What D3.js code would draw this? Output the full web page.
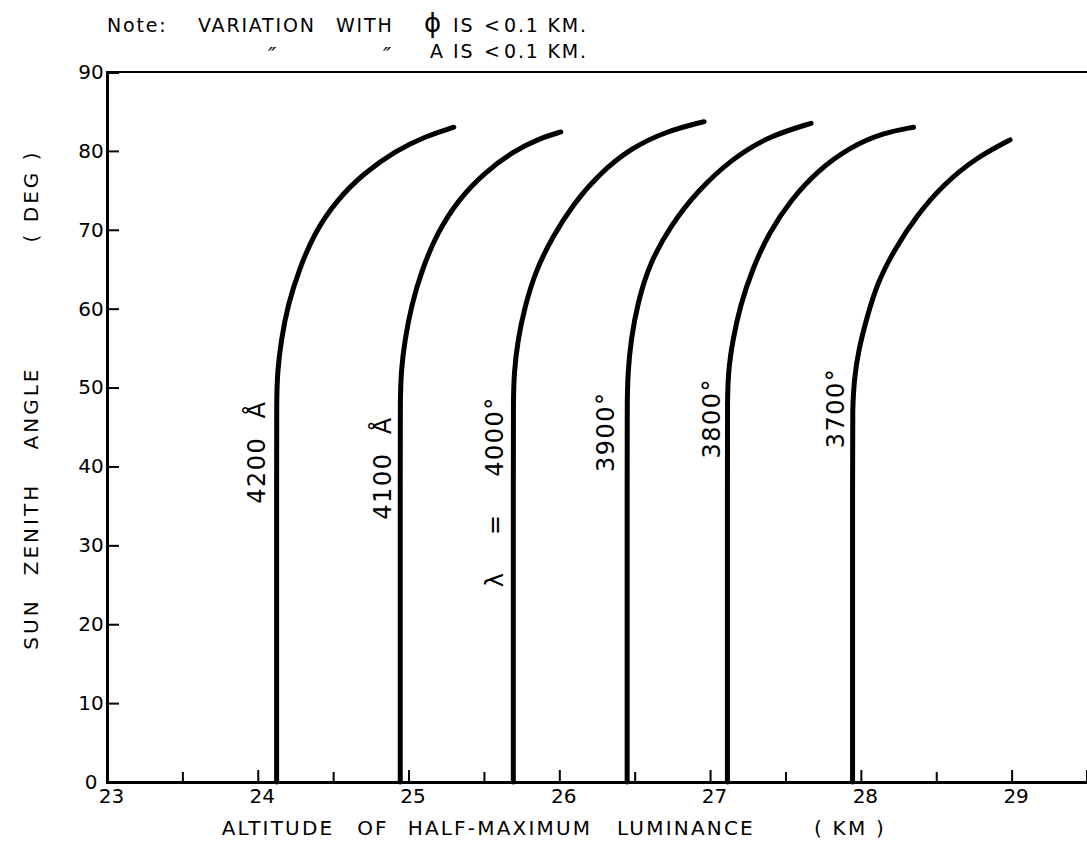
<!DOCTYPE html>
<html><head><meta charset="utf-8">
<script src="https://cdn.jsdelivr.net/npm/d3@7"></script>
<style>
html,body{margin:0;padding:0;background:#fff;}
svg text{font-family:"DejaVu Sans","Noto Sans",sans-serif;fill:#000;}
</style></head>
<body>
<svg id="chart" width="1087" height="841"></svg>
<script>
// ---- data ----
const xMajorTicks = [23, 24, 25, 26, 27, 28, 29];
const xMinorTicks = [23.5, 24.5, 25.5, 26.5, 27.5, 28.5];
const yTicks = [0, 10, 20, 30, 40, 50, 60, 70, 80, 90];
const curveNames = ["4200  Å", "4100  Å", "λ    =    4000°", "3900°", "3800°", "3700°"];
// [altitude km, sun zenith angle deg]
const curve4200 = [[24.125,0],[24.125,44],[24.125,48],[24.13,52],[24.155,56],[24.20,60.5],[24.275,65],[24.375,69.6],[24.525,73.8],[24.705,77.2],[24.915,80],[25.105,81.8],[25.30,83.0]];
const curve4100 = [[24.945,0],[24.945,44],[24.945,48],[24.95,52],[24.975,56.0],[25.02,60.5],[25.09,65.0],[25.19,69.6],[25.33,73.8],[25.50,77.2],[25.70,80.0],[25.87,81.6],[26.01,82.4]];
const curve4000 = [[25.695,0],[25.695,44],[25.695,48],[25.70,52],[25.725,56.0],[25.77,60.2],[25.845,64.9],[25.955,69.1],[26.09,73.2],[26.26,77.0],[26.47,80.3],[26.71,82.5],[26.96,83.7]];
const curve3900 = [[26.45,0],[26.45,44],[26.45,48],[26.455,52],[26.475,56.0],[26.52,60.8],[26.60,65.8],[26.74,70.6],[26.92,75.0],[27.14,78.9],[27.38,81.8],[27.67,83.5]];
const curve3800 = [[27.115,0],[27.115,44],[27.115,48],[27.12,52],[27.15,56.0],[27.20,60.4],[27.28,65.0],[27.39,69.6],[27.54,73.9],[27.72,77.6],[27.93,80.5],[28.15,82.3],[28.35,83.0]];
const curve3700 = [[27.945,0],[27.945,44],[27.945,47.0],[27.955,51],[27.985,54.8],[28.04,58.9],[28.11,63.3],[28.22,67.4],[28.37,71.8],[28.55,75.8],[28.77,79.2],[28.99,81.4]];
const curves = [curve4200, curve4100, curve4000, curve3900, curve3800, curve3700];
// label anchor: [altitude km, angle deg] (rotated text centre)
const labelPos = [[23.99,41.8],[24.83,39.8],[25.57,36.8],[26.31,44.4],[27.01,46.1],[27.83,47.4]];
const xTitleWords = ["ALTITUDE", "OF", "HALF-MAXIMUM", "LUMINANCE", "( KM )"];
const yTitleWords = ["SUN", "ZENITH", "ANGLE", "( DEG )"];
const noteLine1 = ["Note:", "VARIATION", "WITH", "ϕ", "IS", "<", "0.1 KM."];
const noteLine2 = ["\u2033", "\u2033", "A", "IS", "<", "0.1 KM."];

// ---- drawing ----
const svg = d3.select("#chart");
const x = d3.scaleLinear().domain([23, 29.5]).range([107, 1087]);
const y = d3.scaleLinear().domain([0, 90]).range([782, 72]);

// top border
svg.append("line").attr("x1", x(23)).attr("x2", x(29.5)).attr("y1", y(90)).attr("y2", y(90))
  .attr("stroke", "#000").attr("stroke-width", 2);

// left axis
const gy = svg.append("g").attr("transform", `translate(${x(23)},0)`)
  .call(d3.axisLeft(y).tickValues(yTicks).tickSize(-12).tickPadding(28).tickFormat(d3.format("d")));
gy.select(".domain").attr("stroke-width", 3);
gy.selectAll(".tick line").attr("stroke-width", 2);
gy.selectAll(".tick text").attr("font-size", 20).attr("text-anchor", "middle").attr("dx", 12);

// bottom axis
const gx = svg.append("g").attr("transform", `translate(0,${y(0)})`)
  .call(d3.axisBottom(x).tickValues(xMajorTicks).tickSize(-12).tickPadding(7).tickFormat(d3.format("d")));
gx.select(".domain").attr("stroke-width", 3);
gx.selectAll(".tick line").attr("stroke-width", 2);
gx.selectAll(".tick text").attr("font-size", 20).attr("font-family", "'Liberation Sans Narrow','DejaVu Sans Condensed',sans-serif").attr("dx", 4);
const gxm = svg.append("g").attr("transform", `translate(0,${y(0)})`)
  .call(d3.axisBottom(x).tickValues(xMinorTicks).tickSize(-10).tickFormat(""));
gxm.select(".domain").remove();
gxm.selectAll(".tick line").attr("stroke-width", 2);

// curves
const line = d3.line().x(d => x(d[0])).y(d => y(d[1])).curve(d3.curveBasis);
svg.append("g").selectAll("path").data(curves).join("path")
  .attr("d", line).attr("fill", "none").attr("stroke", "#000")
  .attr("stroke-width", 5).attr("stroke-linecap", "round");

// curve labels
svg.append("g").selectAll("text").data(curveNames).join("text")
  .attr("transform", (d, i) => `translate(${x(labelPos[i][0])},${y(labelPos[i][1])}) rotate(-90)`)
  .attr("text-anchor", "middle").attr("dy", "0.35em")
  .attr("font-size", 24).attr("letter-spacing", 1.5).attr("xml:space", "preserve")
  .text(d => d);

// axis titles
const xtC = [278, 373, 500, 686, 850];
svg.append("g").selectAll("text").data(xTitleWords).join("text")
  .attr("x", (d, i) => xtC[i]).attr("y", 835).attr("text-anchor", "middle")
  .attr("font-size", 20).attr("letter-spacing", 2.2).attr("xml:space", "preserve")
  .text(d => d);
const ytC = [624, 529, 408, 196];
svg.append("g").selectAll("text").data(yTitleWords).join("text")
  .attr("transform", (d, i) => `translate(38,${ytC[i]}) rotate(-90)`).attr("text-anchor", "middle")
  .attr("font-size", 20).attr("letter-spacing", 3).attr("xml:space", "preserve")
  .text(d => d);

// notes
const n1x = [107, 198, 336, 424, 453, 484, 504];
const n2x = [268, 383, 430, 453, 484, 504];
svg.append("g").selectAll("text").data(noteLine1).join("text")
  .attr("x", (d, i) => n1x[i]).attr("y", 32)
  .attr("font-size", (d, i) => i === 3 ? 26 : 19).attr("letter-spacing", 1.8)
  .text(d => d);
svg.append("g").selectAll("text").data(noteLine2).join("text")
  .attr("x", (d, i) => n2x[i]).attr("y", (d, i) => i < 2 ? 63 : 58)
  .attr("font-size", (d, i) => i < 2 ? 22 : 19).attr("font-style", (d, i) => i < 2 ? "italic" : "normal")
  .attr("letter-spacing", 1.8)
  .text(d => d);
</script>
</body></html>
